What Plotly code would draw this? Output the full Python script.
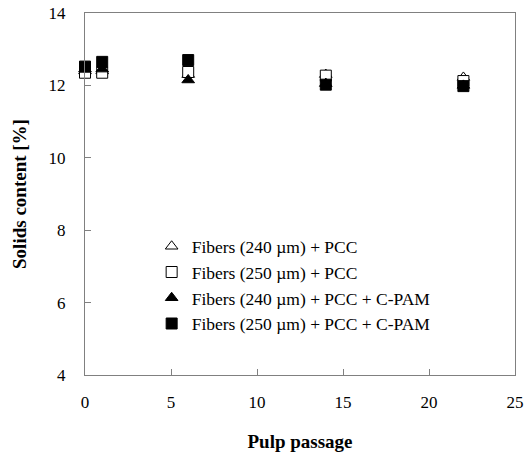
import plotly.graph_objects as go

passage = [0, 1, 6, 14, 22]
names = [
    "Fibers (240 µm) + PCC",
    "Fibers (250 µm) + PCC",
    "Fibers (240 µm) + PCC + C-PAM",
    "Fibers (250 µm) + PCC + C-PAM",
]
open_tri = [12.40, 12.40, 12.30, 12.30, 12.22]
open_sq = [12.35, 12.35, 12.37, 12.27, 12.12]
fill_tri = [12.45, 12.45, 12.15, 12.05, 12.00]
fill_sq = [12.52, 12.65, 12.70, 12.02, 11.98]

series = [open_tri, open_sq, fill_tri, fill_sq]
symbols = ["triangle-up", "square", "triangle-up", "square"]
fills = ["white", "white", "black", "black"]

fig = go.Figure()
for i, (nm, vals, sym, fc) in enumerate(zip(names, series, symbols, fills)):
    fig.add_trace(go.Scatter(
        x=passage, y=vals, mode="markers", name=nm,
        legendgroup=f"g{i}", cliponaxis=False,
        marker=dict(symbol=sym, size=11, color=fc,
                    line=dict(color="black", width=1)),
    ))

ff = "Liberation Serif"
axis_common = dict(
    showline=True, linecolor="#808080", linewidth=1, mirror=True,
    ticks="inside", tickcolor="#808080", ticklen=6,
    showgrid=False, zeroline=False, automargin=False,
    tickfont=dict(family=ff, size=17, color="black"),
)
fig.update_layout(
    width=525, height=452,
    margin=dict(l=85, r=10, t=13, b=77),
    plot_bgcolor="white", paper_bgcolor="white",
    font=dict(family=ff, color="black"),
    showlegend=True,
    legend=dict(
        x=0.155, y=0.405, xanchor="left", yanchor="top",
        font=dict(family=ff, size=17.5, color="black"),
        bgcolor="rgba(0,0,0,0)", itemwidth=30, tracegroupgap=0,
    ),
    xaxis=dict(range=[0, 25], tickvals=[0, 5, 10, 15, 20, 25],
               ticklabelstandoff=12,
               title=dict(text="<b>Pulp passage</b>",
                          font=dict(family=ff, size=19), standoff=24),
               **axis_common),
    yaxis=dict(range=[4, 14], tickvals=[4, 6, 8, 10, 12, 14],
               ticklabelstandoff=15,
               title=dict(text="<b>Solids content [%]</b>",
                          font=dict(family=ff, size=19), standoff=16),
               **axis_common),
)
fig.write_html(
    "out.html",
    config={"displayModeBar": False},
    post_script="document.body.style.margin='0';document.body.style.overflow='hidden';",
)
